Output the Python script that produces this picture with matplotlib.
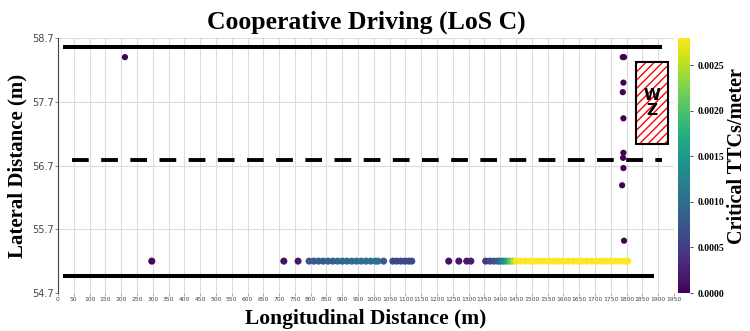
import matplotlib
matplotlib.use("Agg")
import numpy as np
import matplotlib.pyplot as plt
from matplotlib.patches import Rectangle
from matplotlib.colors import Normalize

# lane boundaries (m)
edge_top_y = 58.56
edge_bottom_y = 54.97
lane_divider_y = 56.78
edge_top_x = [15, 1911]
edge_bottom_x = [15, 1886]
divider_x = [44, 1911]

# work zone box
wz_x, wz_y, wz_w, wz_h = 1829, 57.04, 101, 1.28

# critical TTC points: longitudinal (m), lateral (m), TTCs/meter
lane_x = [297, 715, 760,
          795, 810, 825, 840, 855, 870, 885, 900, 915, 930, 945, 960, 975, 990, 1005, 1013,
          1031, 1060, 1072, 1085, 1098, 1110, 1120,
          1237, 1269, 1294, 1307, 1354, 1367, 1380, 1392,
          1400, 1410, 1420, 1430, 1440, 1450,
          1465, 1480, 1495, 1510, 1525, 1540, 1555, 1570, 1585, 1600, 1615, 1630,
          1645, 1660, 1675, 1690, 1705, 1720, 1735, 1750, 1765, 1780, 1795, 1804]
lane_ttc = [0.00005, 0.00012, 0.00018,
            0.00075, 0.00078, 0.00080, 0.00082, 0.00085, 0.00088, 0.00090, 0.00092, 0.00095,
            0.00098, 0.00100, 0.00102, 0.00105, 0.00108, 0.00110, 0.00105,
            0.00080, 0.00060, 0.00062, 0.00060, 0.00058, 0.00060, 0.00062,
            0.00010, 0.00015, 0.00020, 0.00022, 0.00045, 0.00060, 0.00070, 0.00080,
            0.00100, 0.00130, 0.00160, 0.00200, 0.00240, 0.00275,
            0.0028, 0.0028, 0.0028, 0.0028, 0.0028, 0.0028, 0.0028, 0.0028, 0.0028, 0.0028, 0.0028, 0.0028,
            0.0028, 0.0028, 0.0028, 0.0028, 0.0028, 0.0028, 0.0028, 0.0028, 0.0028, 0.0028, 0.0028, 0.0028]
lane_y = [55.2] * len(lane_x)

other_x = [212, 1788, 1792, 1790, 1788, 1790, 1790, 1789, 1790, 1786, 1792]
other_y = [58.4, 58.4, 58.4, 58.0, 57.85, 57.44, 56.9, 56.82, 56.66, 56.39, 55.52]
other_ttc = [0.0, 0.0, 0.0, 0.0, 0.0, 0.0, 0.0, 0.0, 0.0, 0.0, 0.0]

x_ticks = list(range(0, 2000, 50))
y_ticks = [54.7, 55.7, 56.7, 57.7, 58.7]
cbar_ticks = [0.0, 0.0005, 0.0010, 0.0015, 0.0020, 0.0025]

serif = ["Liberation Serif", "DejaVu Serif"]

fig = plt.figure(figsize=(7.5, 3.31), dpi=100)
ax = fig.add_axes([0.0773, 0.1148, 0.8213, 0.7704])
cax = fig.add_axes([0.904, 0.1148, 0.016, 0.7704])

norm = Normalize(vmin=0, vmax=0.0028)

ax.grid(True, color="#dcdcdc", linewidth=0.8)
ax.set_axisbelow(True)

ax.plot(edge_top_x, [edge_top_y] * 2, color="black", lw=2.9, solid_capstyle="butt")
ax.plot(edge_bottom_x, [edge_bottom_y] * 2, color="black", lw=2.9, solid_capstyle="butt")
ax.plot(divider_x, [lane_divider_y] * 2, color="black", lw=2.8,
        dashes=(4.3, 3.2), dash_capstyle="butt")

ax.add_patch(Rectangle((wz_x, wz_y), wz_w, wz_h, facecolor="white",
                       edgecolor="red", hatch="////", lw=0, zorder=3))
ax.add_patch(Rectangle((wz_x, wz_y), wz_w, wz_h, facecolor="none",
                       edgecolor="black", lw=1.5, zorder=4))
ax.text(wz_x + wz_w / 2, wz_y + wz_h / 2, "W\nZ", ha="center", va="center",
        fontsize=11, fontweight="bold", linespacing=0.95, zorder=5)

sc = ax.scatter(lane_x, lane_y, c=lane_ttc, cmap="viridis", norm=norm, s=26, zorder=6, linewidths=0)
ax.scatter(other_x, other_y, c=other_ttc, cmap="viridis", norm=norm, s=20, zorder=6, linewidths=0)

ax.set_xlim(0, 1950)
ax.set_ylim(54.7, 58.7)
ax.set_xticks(x_ticks)
ax.set_xticklabels([str(t) for t in x_ticks], fontsize=4.3, color="#444444")
ax.set_yticks(y_ticks)
ax.set_yticklabels([f"{t:.1f}" for t in y_ticks], fontsize=7, color="#444444")
ax.tick_params(axis="x", length=2, width=0.5, pad=1, colors="#888888", labelcolor="#444444")
ax.tick_params(axis="y", length=2, width=0.5, pad=1, colors="#555555", labelcolor="#444444")
for side in ["top", "right", "bottom"]:
    ax.spines[side].set_visible(False)
ax.spines["left"].set_color("#444444")
ax.spines["left"].set_linewidth(0.8)

ax.set_title("Cooperative Driving (LoS C)", family=serif, fontweight="bold",
             fontsize=18.5, pad=7)
ax.set_xlabel("Longitudinal Distance (m)", family=serif, fontweight="bold",
              fontsize=15.5, labelpad=5)
ax.set_ylabel("Lateral Distance (m)", family=serif, fontweight="bold",
              fontsize=15, labelpad=3)

cb = fig.colorbar(sc, cax=cax, ticks=cbar_ticks)
cb.outline.set_visible(False)
cb.ax.tick_params(length=2, width=0.5, labelsize=7)
cb.ax.set_yticklabels([f"{t:.4f}" for t in cbar_ticks], family=serif, fontweight="bold")
fig.text(0.983, 0.529, "Critical TTCs/meter", family=serif, fontweight="bold",
         fontsize=14.5, rotation=90, ha="center", va="center")

fig.savefig("out.png", dpi=100)
